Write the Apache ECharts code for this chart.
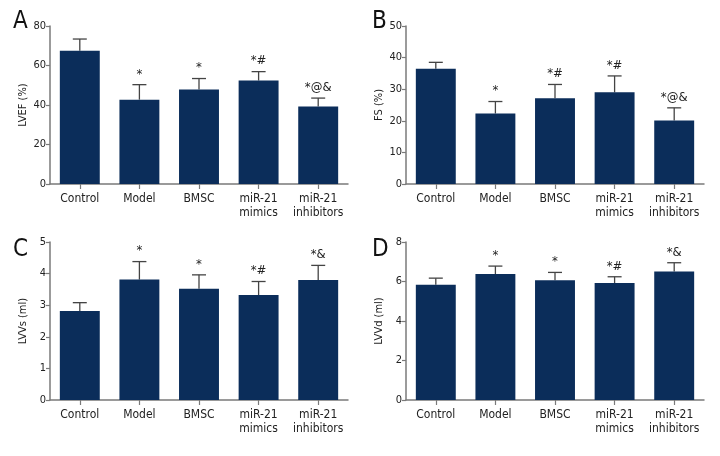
<!DOCTYPE html>
<html><head><meta charset="utf-8">
<script src="https://cdn.jsdelivr.net/npm/echarts@6/dist/echarts.min.js"></script>
<style>html,body{margin:0;padding:0;background:#fff}#c{width:720px;height:456px}</style>
</head><body><div id="c"></div>
<script>
const categories = ['Control', 'Model', 'BMSC', 'miR-21\nmimics', 'miR-21\ninhibitors'];

const lvefMean = [67.5, 42.7, 47.8, 52.4, 39.2];
const lvefUpper = [73.4, 50.3, 53.4, 56.9, 43.5];
const lvefMarks = ['', '*', '*', '*#', '*@&'];

const fsMean = [36.5, 22.3, 27.1, 29.0, 20.1];
const fsUpper = [38.5, 26.1, 31.5, 34.2, 24.1];
const fsMarks = ['', '*', '*#', '*#', '*@&'];

const lvsMean = [2.82, 3.81, 3.52, 3.32, 3.80];
const lvsUpper = [3.08, 4.38, 3.96, 3.75, 4.26];
const lvsMarks = ['', '*', '*', '*#', '*&'];

const lvdMean = [5.83, 6.38, 6.06, 5.92, 6.51];
const lvdUpper = [6.17, 6.78, 6.46, 6.24, 6.95];
const lvdMarks = ['', '*', '*', '*#', '*&'];

const panels = [
  {letter: 'A', name: 'LVEF (%)', max: 80, interval: 20, mean: lvefMean, upper: lvefUpper, marks: lvefMarks},
  {letter: 'B', name: 'FS (%)', max: 50, interval: 10, mean: fsMean, upper: fsUpper, marks: fsMarks},
  {letter: 'C', name: 'LVVs (ml)', max: 5, interval: 1, mean: lvsMean, upper: lvsUpper, marks: lvsMarks},
  {letter: 'D', name: 'LVVd (ml)', max: 8, interval: 2, mean: lvdMean, upper: lvdUpper, marks: lvdMarks}
];

const FONT = "'Liberation Sans Narrow','DejaVu Sans Condensed','Roboto Condensed',sans-serif";
const BAR = '#0b2d5a';
const AXIS = '#7a7a7a';
const grids = [
  {left: 50, top: 26, width: 298, height: 158},
  {left: 406, top: 26, width: 298, height: 158},
  {left: 50, top: 242, width: 298, height: 158},
  {left: 406, top: 242, width: 298, height: 158}
];
const letterPos = [[13, 10], [372, 10], [13, 238], [372, 238]];

const option = {
  animation: false,
  textStyle: {fontFamily: FONT},
  grid: grids,
  xAxis: panels.map((p, i) => ({
    gridIndex: i, type: 'category', data: categories,
    axisLine: {lineStyle: {color: AXIS, width: 1.5}},
    axisTick: {show: true, alignWithLabel: true, length: 5, lineStyle: {color: AXIS, width: 1.2}},
    axisLabel: {color: '#222', fontSize: 12, fontFamily: FONT, margin: 8, lineHeight: 14, interval: 0}
  })),
  yAxis: panels.map((p, i) => ({
    gridIndex: i, type: 'value', min: 0, max: p.max, interval: p.interval,
    name: p.name, nameLocation: 'middle', nameGap: 21,
    nameTextStyle: {color: '#222', fontSize: 11, fontFamily: FONT},
    axisLine: {show: true, lineStyle: {color: AXIS, width: 1.5}},
    axisTick: {show: true, length: 4, lineStyle: {color: AXIS, width: 1.2}},
    axisLabel: {color: '#222', fontSize: 11, fontFamily: FONT, margin: 4},
    splitLine: {show: false}
  })),
  series: [],
  graphic: panels.map((p, i) => ({
    type: 'text', left: letterPos[i][0], top: letterPos[i][1],
    style: {text: p.letter, font: '24px ' + FONT, fill: '#111'}
  }))
};

panels.forEach((p, i) => {
  option.series.push({
    type: 'bar', xAxisIndex: i, yAxisIndex: i, data: p.mean,
    barCategoryGap: '33%',
    itemStyle: {color: BAR}
  });
  option.series.push({
    type: 'custom', xAxisIndex: i, yAxisIndex: i, z: 1,
    data: p.mean.map((m, k) => [k, m, p.upper[k], p.marks[k]]),
    renderItem: function (params, api) {
      const x = api.value(0);
      const top = api.coord([x, api.value(2)]);
      const base = api.coord([x, api.value(1)]);
      const mark = p.marks[params.dataIndex];
      const half = 7;
      return {
        type: 'group',
        children: [
          {type: 'line', shape: {x1: top[0], y1: base[1], x2: top[0], y2: top[1]}, style: {stroke: '#444', lineWidth: 1.3}},
          {type: 'line', shape: {x1: top[0] - half, y1: top[1], x2: top[0] + half, y2: top[1]}, style: {stroke: '#444', lineWidth: 1.3}},
          {type: 'text', x: top[0], y: top[1] - 4, style: {text: mark, font: '13px ' + FONT, fill: '#222', align: 'center', verticalAlign: 'bottom'}}
        ]
      };
    }
  });
});

const chart = echarts.init(document.getElementById('c'), null, {renderer: 'canvas'});
chart.setOption(option);
</script></body></html>
